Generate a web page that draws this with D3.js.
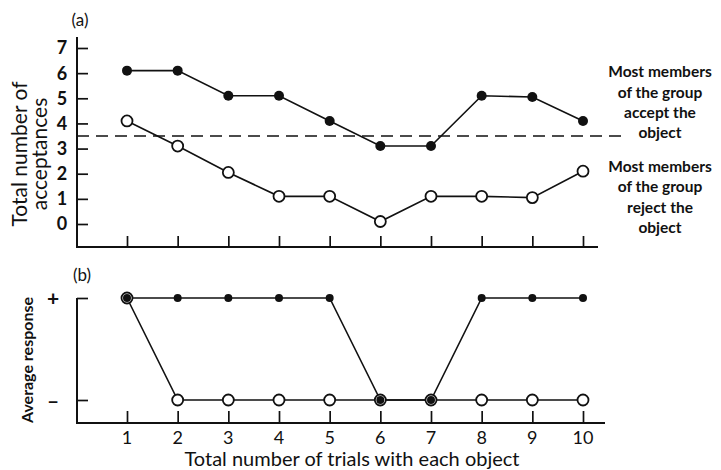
<!DOCTYPE html>
<html><head><meta charset="utf-8">
<script src="https://cdn.jsdelivr.net/npm/d3@7"></script>
<style>body{margin:0;background:#fff}svg{display:block}text{font-family:Lato,"Open Sans",sans-serif;fill:#111}</style>
</head><body><svg id="c" width="721" height="470"></svg>
<script>
const trials = [1,2,3,4,5,6,7,8,9,10];
const acceptFilled = [6.1,6.1,5.1,5.1,4.1,3.1,3.1,5.1,5.05,4.1];
const acceptOpen = [4.1,3.1,2.05,1.1,1.1,0.1,1.1,1.1,1.05,2.1];
const threshold = 3.5;
const yTicksA = [0,1,2,3,4,5,6,7];
const responseFilled = [1,1,1,1,1,0,0,1,1,1];
const responseOpen = [1,0,0,0,0,0,0,0,0,0];
const yTicksB = [{v:1,l:"+"},{v:0,l:"\u2013"}];
const labelAccept = ["Most members","of the group","accept the","object"];
const labelReject = ["Most members","of the group","reject the","object"];

const svg = d3.select("#c");
const x = d3.scaleLinear().domain([1,10]).range([127,583]);
const yA = d3.scaleLinear().domain([0,7]).range([224,48]);
const yB = d3.scaleLinear().domain([0,1]).range([400,298]);
const ink = "#111";

// Panel a axes
const gA = svg.append("g");
gA.append("line").attr("x1",77).attr("x2",77).attr("y1",37).attr("y2",247).attr("stroke",ink).attr("stroke-width",2);
gA.append("line").attr("x1",76).attr("x2",598).attr("y1",247).attr("y2",247).attr("stroke",ink).attr("stroke-width",2);
gA.append("g").attr("transform","translate(77,0)").call(d3.axisRight(yA).tickValues(yTicksA).tickSize(11).tickFormat("")).call(g=>{g.select(".domain").remove();g.selectAll("line").attr("stroke",ink).attr("stroke-width",1.7);});
gA.selectAll(".ylA").data(yTicksA).join("text").attr("x",62).attr("y",d=>yA(d)).attr("dy","0.36em").attr("text-anchor","middle").attr("font-size",18).attr("font-weight","bold").text(d=>d);
gA.append("g").attr("transform","translate(0,247)").call(d3.axisTop(x).tickValues(trials).tickSize(11).tickFormat("")).call(g=>{g.select(".domain").remove();g.selectAll("line").attr("stroke",ink).attr("stroke-width",1.7);});

// threshold
gA.append("line").attr("x1",77).attr("x2",628).attr("y1",yA(threshold)).attr("y2",yA(threshold)).attr("stroke",ink).attr("stroke-width",1.6).attr("stroke-dasharray","12,7");

const lineA = d3.line().x((d,i)=>x(trials[i])).y(d=>yA(d));
gA.append("path").attr("d",lineA(acceptFilled)).attr("fill","none").attr("stroke",ink).attr("stroke-width",1.6);
gA.append("path").attr("d",lineA(acceptOpen)).attr("fill","none").attr("stroke",ink).attr("stroke-width",1.6);
gA.selectAll(".fa").data(acceptFilled).join("circle").attr("cx",(d,i)=>x(trials[i])).attr("cy",d=>yA(d)).attr("r",5).attr("fill",ink);
gA.selectAll(".oa").data(acceptOpen).join("circle").attr("cx",(d,i)=>x(trials[i])).attr("cy",d=>yA(d)).attr("r",5.5).attr("fill","#fff").attr("stroke",ink).attr("stroke-width",1.8);

svg.append("text").attr("x",80).attr("y",26).attr("text-anchor","middle").attr("font-size",17).text("(a)");
const ylab = svg.append("text").attr("transform","translate(0,154) rotate(-90)").attr("text-anchor","middle").attr("font-size",21);
ylab.append("tspan").attr("x",0).attr("y",27).text("Total number of");
ylab.append("tspan").attr("x",0).attr("y",47).text("acceptances");

[[labelAccept,[72,93,113,133]],[labelReject,[167,187,208,228]]].forEach(([lines,ys])=>{
  svg.selectAll(null).data(lines).join("text").attr("x",660).attr("y",(d,i)=>ys[i]).attr("dy","0.35em").attr("text-anchor","middle").attr("font-size",15.5).attr("font-weight","bold").text(d=>d);
});

// Panel b
const gB = svg.append("g");
gB.append("line").attr("x1",77).attr("x2",77).attr("y1",298).attr("y2",423).attr("stroke",ink).attr("stroke-width",2);
gB.append("line").attr("x1",76).attr("x2",605).attr("y1",423).attr("y2",423).attr("stroke",ink).attr("stroke-width",2);
gB.append("g").attr("transform","translate(77,0)").call(d3.axisRight(yB).tickValues(yTicksB.map(d=>d.v)).tickSize(11).tickFormat("")).call(g=>{g.select(".domain").remove();g.selectAll("line").attr("stroke",ink).attr("stroke-width",1.7);});
gB.selectAll(".ylB").data(yTicksB).join("text").attr("x",53).attr("y",d=>yB(d.v)).attr("dy","0.36em").attr("text-anchor","middle").attr("font-size",21).attr("font-weight","bold").text(d=>d.l);
gB.append("g").attr("transform","translate(0,423)").call(d3.axisTop(x).tickValues(trials).tickSize(12).tickFormat("")).call(g=>{g.select(".domain").remove();g.selectAll("line").attr("stroke",ink).attr("stroke-width",1.7);});
gB.selectAll(".xl").data(trials).join("text").attr("x",d=>x(d)).attr("y",444).attr("text-anchor","middle").attr("font-size",18).text(d=>d);

const lineB = d3.line().x((d,i)=>x(trials[i])).y(d=>yB(d));
gB.append("path").attr("d",lineB(responseFilled)).attr("fill","none").attr("stroke",ink).attr("stroke-width",1.6);
gB.append("path").attr("d",lineB(responseOpen)).attr("fill","none").attr("stroke",ink).attr("stroke-width",1.6);
gB.selectAll(".ob").data(responseOpen).join("circle").attr("cx",(d,i)=>x(trials[i])).attr("cy",d=>yB(d)).attr("r",5.5).attr("fill","#fff").attr("stroke",ink).attr("stroke-width",1.8);
gB.selectAll(".fb").data(responseFilled).join("circle").attr("cx",(d,i)=>x(trials[i])).attr("cy",d=>yB(d)).attr("r",4).attr("fill",ink);

svg.append("text").attr("x",82).attr("y",281).attr("text-anchor","middle").attr("font-size",17).text("(b)");
svg.append("text").attr("transform","translate(33,360) rotate(-90)").attr("text-anchor","middle").attr("font-size",16).attr("font-weight","bold").text("Average response");
svg.append("text").attr("x",352).attr("y",466).attr("text-anchor","middle").attr("font-size",20).text("Total number of trials with each object");
</script></body></html>
